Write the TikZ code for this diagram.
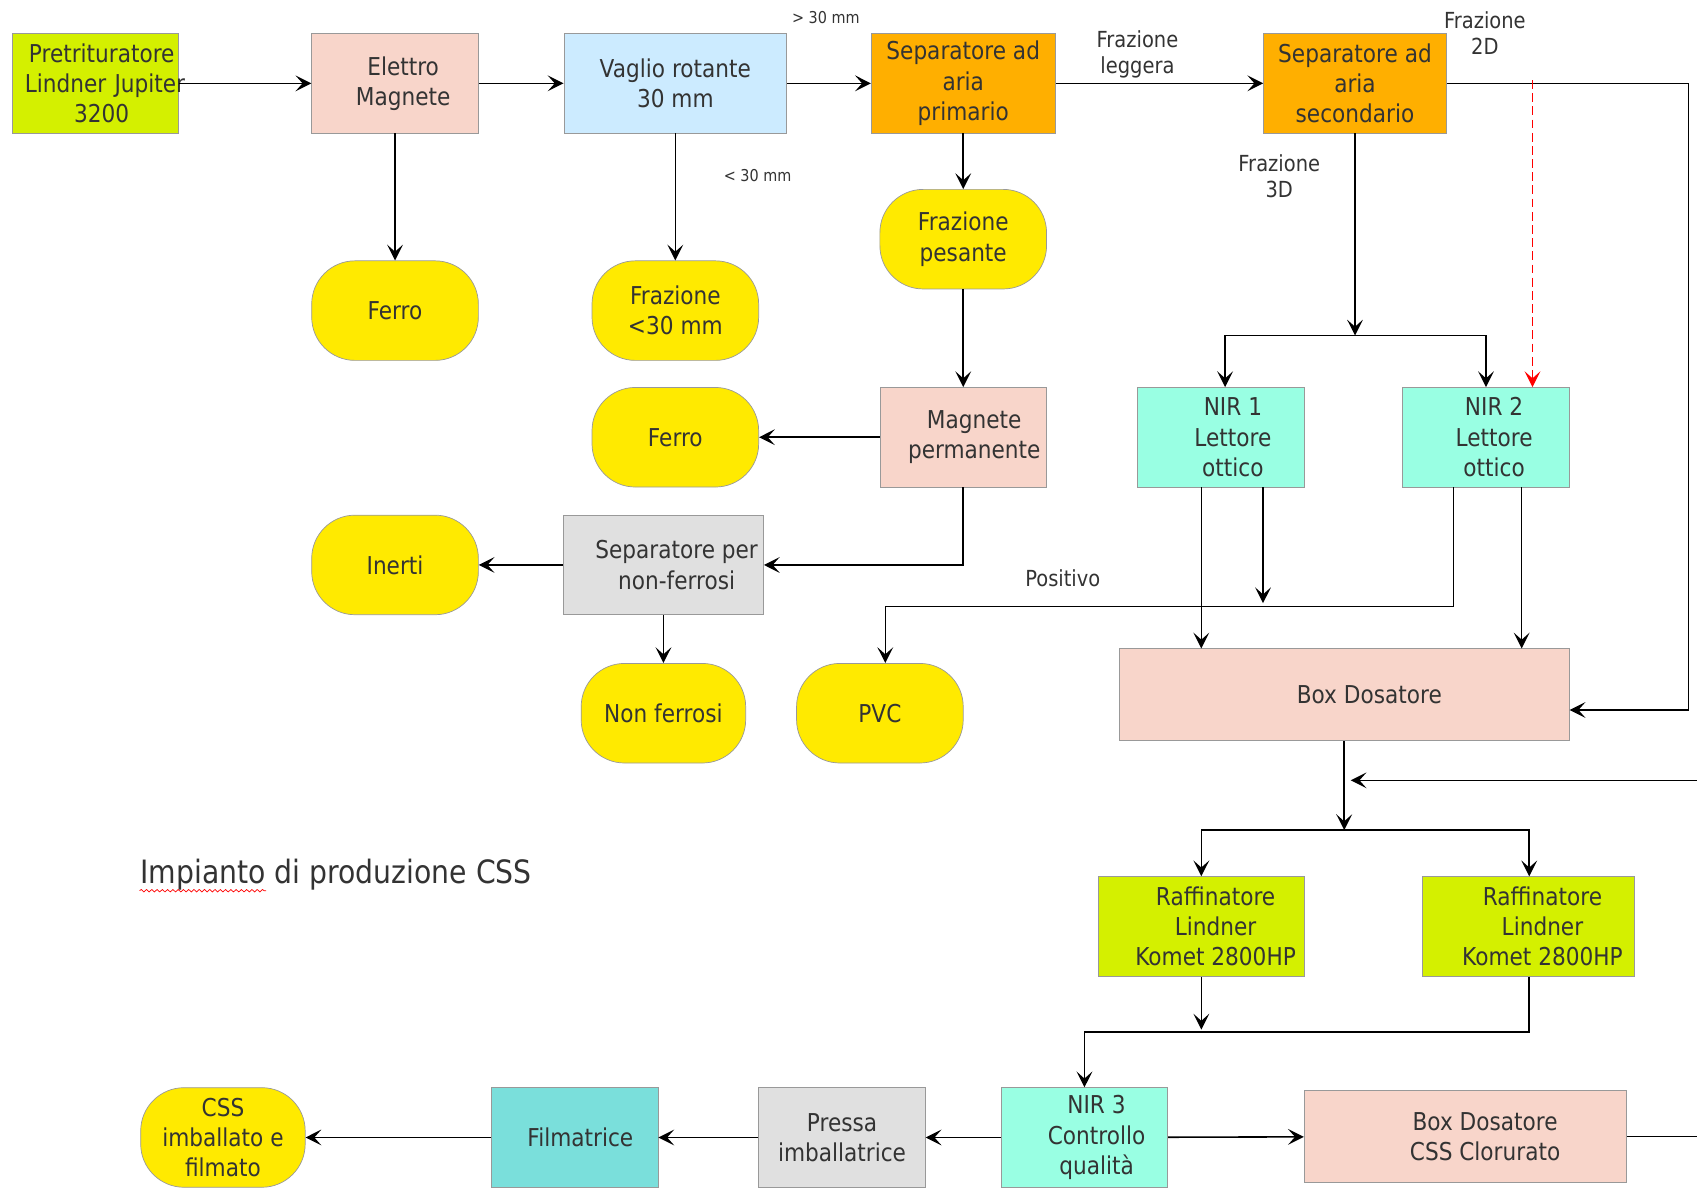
\documentclass[tikz,border=0pt]{standalone}
\usepackage{fontspec}
\setmainfont{DejaVu Sans}[FakeStretch=0.88]
\usetikzlibrary{positioning}
\usetikzlibrary{arrows.meta}
\usetikzlibrary{decorations.pathmorphing}
\newlength{\pu}
\setlength{\pu}{0.021646cm}
% spostamento del testo verso destra (come nel disegno originale)
\newcommand{\ind}[1][15]{\hspace*{#1\pu}}
\hfuzz=20pt
\definecolor{machgreen}{HTML}{D4F000}
\definecolor{boxpink}{HTML}{F8D5CA}
\definecolor{sieveblue}{HTML}{CCEBFF}
\definecolor{sepor}{HTML}{FFAF00}
\definecolor{outyel}{HTML}{FFEA00}
\definecolor{sepgray}{HTML}{E0E0E0}
\definecolor{nirgreen}{HTML}{99FFE3}
\definecolor{filteal}{HTML}{7ADFDB}
\tikzset{station/.style={%
        rectangle,
        draw=black!40,
        minimum width=154\pu,
        minimum height=92\pu,
        inner sep=0pt,
        align=center,
        text=black!80,
        font=\fontsize{14}{17.2}\selectfont
    },
    product/.style={%
        station,
        rounded corners=40\pu,
        fill=outyel
    },
    flow/.style={->, line width=0.9pt},
    flowlabel/.style={text=black!80, align=center, font=\fontsize{12.6}{14.8}\selectfont},
    sizelabel/.style={text=black!80, font=\fontsize{9.3}{11}\selectfont}
}

\begin{document}
\begin{tikzpicture}[x=0.021646cm, y=-0.021646cm, >={Stealth[length=9pt,width=9pt,inset=4pt]}]
    \useasboundingbox (0,0) rectangle (1568,1100);
    % linea principale
    \node [station, fill=machgreen, text width=154\pu] (pre) at (88,77) {\mbox{\ind[12]Pretrituratore}\\\mbox{\ind[12]Lindner Jupiter}\\\mbox{\ind[12]3200}};
    \node [station, fill=boxpink] (elm) at (365,77) {\ind Elettro\\\ind Magnete};
    \node [station, fill=sieveblue, minimum width=206\pu] (vag) at (624,77) {Vaglio rotante\\30 mm};
    \node [station, fill=sepor, minimum width=170\pu] (sap) at (890,77) {Separatore ad\\aria\\primario};
    \node [station, fill=sepor, minimum width=169\pu] (sas) at (1252,77) {Separatore ad\\aria\\secondario};
    % scarti e separazioni
    \node [product] (fe1) at (365,287) {Ferro};
    \node [product] (fr30) at (624,287) {Frazione\\<30 mm};
    \node [product] (fp) at (890,221) {Frazione\\pesante};
    \node [station, fill=boxpink] (mp) at (890,404) {\ind[14] Magnete\\\ind[14] permanente};
    \node [product] (fe2) at (624,404) {Ferro};
    \node [station, fill=sepgray, minimum width=185\pu] (snf) at (613,522) {\ind[18] Separatore per\\\ind[18] non-ferrosi};
    \node [product] (ine) at (365,522) {Inerti};
    \node [product, minimum width=152\pu] (nonf) at (613,659) {Non ferrosi};
    \node [product] (pvc) at (813,659) {PVC};
    % lettori ottici
    \node [station, fill=nirgreen] (nir1) at (1128,404) {\ind[16] NIR 1\\\ind[16] Lettore\\\ind[16] ottico};
    \node [station, fill=nirgreen] (nir2) at (1373,404) {\ind NIR 2\\\ind Lettore\\\ind ottico};
    \node [station, fill=boxpink, minimum width=416\pu, minimum height=85\pu] (box) at (1242,642) {\ind[40] Box Dosatore};
    \node [station, fill=machgreen, minimum width=190\pu] (raf1) at (1110,856) {\ind[20] Raffinatore\\\ind[20] Lindner\\\ind[20] Komet 2800HP};
    \node [station, fill=machgreen, minimum width=196\pu] (raf2) at (1412,856) {\ind[20] Raffinatore\\\ind[20] Lindner\\\ind[20] Komet 2800HP};
    % uscita
    \node [station, fill=nirgreen] (nir3) at (1002,1051) {\ind[16] NIR 3\\\ind[16] Controllo\\\ind[16] qualità};
    \node [station, fill=boxpink, minimum width=298\pu, minimum height=85\pu] (boxc) at (1354,1050) {\ind[30] Box Dosatore\\\ind[30] CSS Clorurato};
    \node [station, fill=sepgray] (pres) at (778,1051) {Pressa\\imballatrice};
    \node [station, fill=filteal] (fil) at (531,1051) {\ind[4] Filmatrice};
    \node [product, minimum width=152\pu] (css) at (206,1051) {CSS\\imballato e\\filmato};
    \node [text=black!80, anchor=west, font=\fontsize{18.3}{21}\selectfont] (title) at (124,808) {Impianto di produzione CSS};
    \draw [red, decorate, decoration={snake, amplitude=0.7pt, segment length=3pt}] (129,823) -- (246,823);
    % etichette
    \node [sizelabel] (l30a) at (763,16) {> 30 mm};
    \node [sizelabel] (l30b) at (700,162) {< 30 mm};
    \node [flowlabel] (lleg) at (1051,50) {Frazione\\leggera};
    \node [flowlabel] (l2d) at (1372,31) {Frazione\\2D};
    \node [flowlabel] (l3d) at (1182,163) {Frazione\\3D};
    \node [flowlabel] (lpos) at (982,534) {Positivo};
    % collegamenti
    \coordinate (cr) at (1560,656);
    \coordinate (rd) at (1416,74);
    \coordinate (s3) at (1252,310);
    \coordinate (s4) at (1242,767);
    \coordinate (re) at (1568,721);
    \coordinate (ro) at (1568,1050);
    \draw [flow] (pre) -- (elm);
    \draw [flow] (elm) -- (vag);
    \draw [flow] (vag) -- (sap);
    \draw [flow] (sap) -- (sas);
    \draw [flow] (sas.east) -| (cr) -- (cr -| box.east);
    \draw [->, red, dash pattern=on 5pt off 2.5pt, line width=0.7pt] (rd) -- (rd |- nir2.north);
    \draw [flow] (elm) -- (fe1);
    \draw [flow] (vag) -- (fr30);
    \draw [flow] (sap) -- (fp);
    \draw [flow] (fp) -- (mp);
    \draw [flow] (mp) -- (fe2);
    \draw [flow] (mp.south) |- (snf.east);
    \draw [flow] (snf) -- (ine);
    \draw [flow] (snf) -- (nonf);
    \draw [flow] (sas.south) -- (s3);
    \draw [flow] (s3) -| ([xshift=4\pu]nir1.north);
    \draw [flow] (s3) -| (nir2.north);
    \draw [flow] ([xshift=-18\pu]nir1.south) -- ([xshift=-18\pu]nir1.south |- box.north);
    \draw [flow] ([xshift=39\pu]nir1.south) -- ++(0,107);
    \draw [flow] ([xshift=-30\pu]nir2.south) -- ++(0,110) -| ([xshift=5\pu]pvc.north);
    \draw [flow] ([xshift=33\pu]nir2.south) -- ([xshift=33\pu]nir2.south |- box.north);
    \draw [flow] (box.south) -- (s4);
    \draw [flow] (s4) -| (raf1.north);
    \draw [flow] (s4) -| ([xshift=1\pu]raf2.north);
    \draw [flow] (re) -- ([xshift=6\pu]re -| box.south);
    \draw [flow] (raf1.south) -- ++(0,49);
    \draw [flow] ([xshift=1\pu]raf2.south) -- ++(0,51) -| (nir3.north);
    \draw [flow] (nir3) -- (boxc);
    \draw [line width=0.9pt] (boxc.east) -- (ro);
    \draw [flow] (nir3) -- (pres);
    \draw [flow] (pres) -- (fil);
    \draw [flow] (fil) -- (css);
\end{tikzpicture}
\end{document}
